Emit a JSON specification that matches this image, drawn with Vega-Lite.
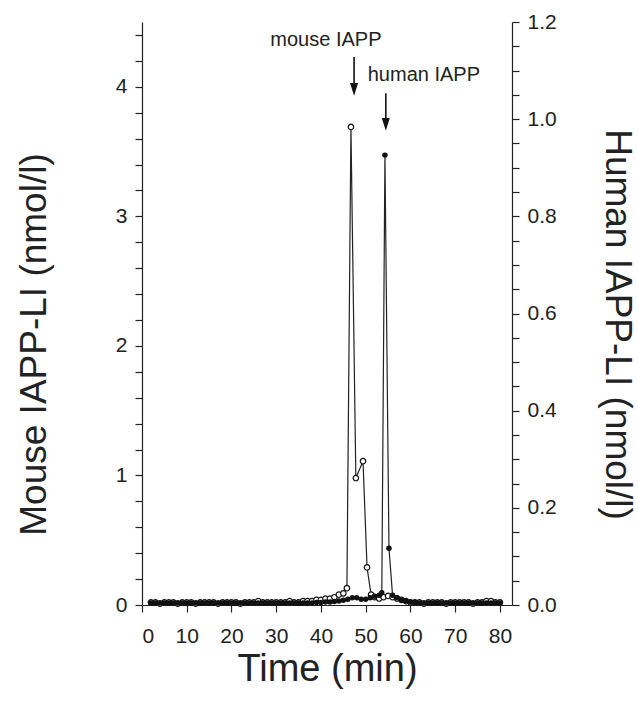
{
  "$schema": "https://vega.github.io/schema/vega-lite/v6.json",
  "width": 370,
  "height": 583,
  "autosize": {"type": "none"},
  "padding": {"left": 142, "top": 22, "right": 126, "bottom": 97},
  "background": "white",
  "config": {
    "view": {"stroke": null},
    "font": "Liberation Sans",
    "axis": {
      "grid": false,
      "domainColor": "#222",
      "tickColor": "#222",
      "labelColor": "#222",
      "titleColor": "#222",
      "labelFont": "Liberation Sans",
      "titleFont": "Liberation Sans",
      "labelFontSize": 21,
      "titleFontSize": 37,
      "titleFontWeight": "normal",
      "tickSize": 7,
      "domainWidth": 1.2,
      "tickWidth": 1.2,
      "labelOverlap": false
    }
  },
  "datasets": {
    "mouse": [
      {"t": 2, "v": 0.02}, {"t": 3, "v": 0.02}, {"t": 4, "v": 0.01}, {"t": 5, "v": 0.02},
      {"t": 6, "v": 0.02}, {"t": 7, "v": 0.02}, {"t": 8, "v": 0.01}, {"t": 9, "v": 0.02},
      {"t": 10, "v": 0.02}, {"t": 11, "v": 0.02}, {"t": 12, "v": 0.01}, {"t": 13, "v": 0.02},
      {"t": 14, "v": 0.02}, {"t": 15, "v": 0.02}, {"t": 16, "v": 0.02}, {"t": 17, "v": 0.01},
      {"t": 18, "v": 0.02}, {"t": 19, "v": 0.02}, {"t": 20, "v": 0.02}, {"t": 21, "v": 0.02},
      {"t": 22, "v": 0.01}, {"t": 23, "v": 0.02}, {"t": 24, "v": 0.02}, {"t": 25, "v": 0.02},
      {"t": 26, "v": 0.03}, {"t": 27, "v": 0.02}, {"t": 28, "v": 0.02}, {"t": 29, "v": 0.02},
      {"t": 30, "v": 0.02}, {"t": 31, "v": 0.02}, {"t": 32, "v": 0.02}, {"t": 33, "v": 0.03},
      {"t": 34, "v": 0.02}, {"t": 35, "v": 0.02}, {"t": 36, "v": 0.03}, {"t": 37, "v": 0.03},
      {"t": 38, "v": 0.03}, {"t": 39, "v": 0.04}, {"t": 40, "v": 0.04}, {"t": 41, "v": 0.05},
      {"t": 42, "v": 0.05}, {"t": 43, "v": 0.06}, {"t": 44, "v": 0.08}, {"t": 45, "v": 0.09},
      {"t": 45.8, "v": 0.13}, {"t": 46.7, "v": 3.69}, {"t": 47.8, "v": 0.98}, {"t": 49.4, "v": 1.11},
      {"t": 50.3, "v": 0.29}, {"t": 51.2, "v": 0.08}, {"t": 52, "v": 0.06}, {"t": 53, "v": 0.05},
      {"t": 54, "v": 0.06}, {"t": 55, "v": 0.07}, {"t": 56, "v": 0.06}, {"t": 57, "v": 0.05},
      {"t": 58, "v": 0.04}, {"t": 59, "v": 0.03}, {"t": 60, "v": 0.02}, {"t": 61, "v": 0.02},
      {"t": 62, "v": 0.02}, {"t": 63, "v": 0.01}, {"t": 64, "v": 0.02}, {"t": 65, "v": 0.02},
      {"t": 66, "v": 0.02}, {"t": 67, "v": 0.02}, {"t": 68, "v": 0.01}, {"t": 69, "v": 0.02},
      {"t": 70, "v": 0.02}, {"t": 71, "v": 0.02}, {"t": 72, "v": 0.02}, {"t": 73, "v": 0.02},
      {"t": 74, "v": 0.01}, {"t": 75, "v": 0.02}, {"t": 76, "v": 0.02}, {"t": 77, "v": 0.03},
      {"t": 78, "v": 0.03}, {"t": 79, "v": 0.02}, {"t": 80, "v": 0.02}
    ],
    "human": [
      {"t": 2, "v": 0.004}, {"t": 3, "v": 0.004}, {"t": 4, "v": 0.004}, {"t": 5, "v": 0.004},
      {"t": 6, "v": 0.004}, {"t": 7, "v": 0.004}, {"t": 8, "v": 0.004}, {"t": 9, "v": 0.004},
      {"t": 10, "v": 0.004}, {"t": 11, "v": 0.004}, {"t": 12, "v": 0.004}, {"t": 13, "v": 0.004},
      {"t": 14, "v": 0.004}, {"t": 15, "v": 0.004}, {"t": 16, "v": 0.004}, {"t": 17, "v": 0.004},
      {"t": 18, "v": 0.004}, {"t": 19, "v": 0.004}, {"t": 20, "v": 0.004}, {"t": 21, "v": 0.004},
      {"t": 22, "v": 0.004}, {"t": 23, "v": 0.004}, {"t": 24, "v": 0.004}, {"t": 25, "v": 0.004},
      {"t": 26, "v": 0.004}, {"t": 27, "v": 0.004}, {"t": 28, "v": 0.004}, {"t": 29, "v": 0.004},
      {"t": 30, "v": 0.004}, {"t": 31, "v": 0.004}, {"t": 32, "v": 0.004}, {"t": 33, "v": 0.004},
      {"t": 34, "v": 0.004}, {"t": 35, "v": 0.004}, {"t": 36, "v": 0.004}, {"t": 37, "v": 0.004},
      {"t": 38, "v": 0.004}, {"t": 39, "v": 0.005}, {"t": 40, "v": 0.005}, {"t": 41, "v": 0.006},
      {"t": 42, "v": 0.006}, {"t": 43, "v": 0.007}, {"t": 44, "v": 0.008}, {"t": 45, "v": 0.01},
      {"t": 46, "v": 0.012}, {"t": 47, "v": 0.015}, {"t": 48, "v": 0.015}, {"t": 49, "v": 0.012},
      {"t": 50, "v": 0.012}, {"t": 51, "v": 0.015}, {"t": 52, "v": 0.018}, {"t": 53, "v": 0.02},
      {"t": 53.6, "v": 0.025}, {"t": 54.3, "v": 0.926}, {"t": 55.2, "v": 0.117}, {"t": 56, "v": 0.02},
      {"t": 57, "v": 0.015}, {"t": 58, "v": 0.01}, {"t": 59, "v": 0.008}, {"t": 60, "v": 0.006},
      {"t": 61, "v": 0.005}, {"t": 62, "v": 0.004}, {"t": 63, "v": 0.004}, {"t": 64, "v": 0.004},
      {"t": 65, "v": 0.004}, {"t": 66, "v": 0.004}, {"t": 67, "v": 0.004}, {"t": 68, "v": 0.004},
      {"t": 69, "v": 0.004}, {"t": 70, "v": 0.004}, {"t": 71, "v": 0.004}, {"t": 72, "v": 0.004},
      {"t": 73, "v": 0.004}, {"t": 74, "v": 0.004}, {"t": 75, "v": 0.004}, {"t": 76, "v": 0.004},
      {"t": 77, "v": 0.004}, {"t": 78, "v": 0.004}, {"t": 79, "v": 0.004}, {"t": 80, "v": 0.004}
    ],
    "labels": [
      {"t": 41.1, "v": 4.36, "label": "mouse IAPP"},
      {"t": 63.0, "v": 4.09, "label": "human IAPP"}
    ],
    "arrows": [
      {"t": 47.4, "v": 4.23, "v2": 3.98},
      {"t": 54.5, "v": 3.95, "v2": 3.71}
    ]
  },
  "encoding": {
    "x": {
      "field": "t",
      "type": "quantitative",
      "scale": {"domain": [0, 82.7], "nice": false, "zero": false},
      "axis": {
        "values": [0, 10, 20, 30, 40, 50, 60, 70, 80],
        "format": "d",
        "title": "Time (min)",
        "titleFontSize": 38,
        "labelPadding": 13,
        "titleY": 64,
        "titleBaseline": "middle"
      }
    }
  },
  "layer": [
    {
      "encoding": {
        "y": {
          "field": "v",
          "type": "quantitative",
          "scale": {"domain": [0, 4.5], "nice": false},
          "axis": {
            "orient": "left",
            "values": [0, 0.2, 0.4, 0.6, 0.8, 1, 1.2, 1.4, 1.6, 1.8, 2, 2.2, 2.4, 2.6, 2.8, 3, 3.2, 3.4, 3.6, 3.8, 4, 4.2, 4.4],
            "labelExpr": "abs(datum.value - round(datum.value)) < 0.01 ? format(round(datum.value), 'd') : ''",
            "labelOverlap": false,
            "labelPadding": 8,
            "title": "Mouse IAPP-LI (nmol/l)",
            "titleAngle": -90,
            "titleX": -108,
            "titleY": 322,
            "titleAlign": "center",
            "titleBaseline": "middle"
          }
        }
      },
      "layer": [
        {
          "data": {"name": "mouse"},
          "mark": {"type": "line", "color": "#222", "strokeWidth": 1.2}
        },
        {
          "data": {"name": "mouse"},
          "mark": {"type": "point", "shape": "circle", "filled": true, "fill": "white", "stroke": "#111", "strokeWidth": 1.2, "size": 30, "opacity": 1}
        },
        {
          "data": {"name": "labels"},
          "mark": {"type": "text", "font": "Liberation Sans", "fontSize": 20, "color": "#222", "align": "center", "baseline": "middle"},
          "encoding": {
            "text": {"field": "label"}
          }
        },
        {
          "data": {"name": "arrows"},
          "mark": {"type": "rule", "color": "#111", "strokeWidth": 1.6},
          "encoding": {
            "y2": {"field": "v2"}
          }
        },
        {
          "data": {"name": "arrows"},
          "mark": {"type": "point", "shape": "M-1,-1.6L1,-1.6L0,1.6Z", "filled": true, "color": "#111", "size": 64, "opacity": 1},
          "encoding": {
            "y": {"field": "v2", "type": "quantitative"}
          }
        }
      ]
    },
    {
      "encoding": {
        "y": {
          "field": "v",
          "type": "quantitative",
          "scale": {"domain": [0, 1.2], "nice": false},
          "axis": {
            "orient": "right",
            "values": [0, 0.05, 0.1, 0.15, 0.2, 0.25, 0.3, 0.35, 0.4, 0.45, 0.5, 0.55, 0.6, 0.65, 0.7, 0.75, 0.8, 0.85, 0.9, 0.95, 1, 1.05, 1.1, 1.15, 1.2],
            "labelExpr": "round(datum.value * 100) % 20 == 0 ? format(datum.value, '.1f') : ''",
            "labelOverlap": false,
            "labelPadding": 8,
            "title": "Human IAPP-LI (nmol/l)",
            "titleAngle": 90,
            "titleX": 104,
            "titleY": 302,
            "titleAlign": "center",
            "titleBaseline": "middle"
          }
        }
      },
      "layer": [
        {
          "data": {"name": "human"},
          "mark": {"type": "line", "color": "#222", "strokeWidth": 1.2}
        },
        {
          "data": {"name": "human"},
          "mark": {"type": "point", "shape": "circle", "filled": true, "color": "#111", "size": 30, "opacity": 1}
        }
      ]
    }
  ],
  "resolve": {"scale": {"y": "independent"}, "axis": {"y": "independent"}}
}
